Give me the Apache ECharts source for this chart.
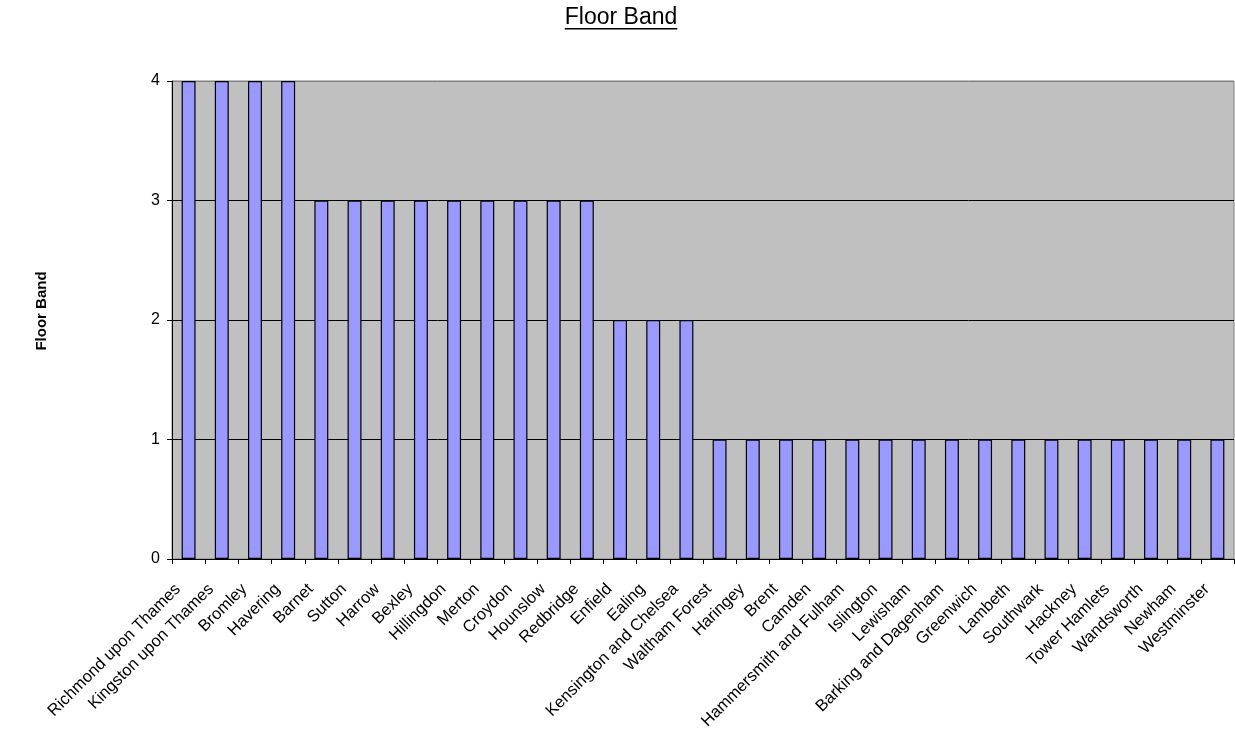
<!DOCTYPE html>
<html>
<head>
<meta charset="utf-8">
<script src="https://cdn.jsdelivr.net/npm/echarts@6/dist/echarts.min.js"></script>
<style>
  html, body { margin: 0; padding: 0; background: #fff; }
  #chart { width: 1235px; height: 733px; }
</style>
</head>
<body>
<div id="chart"></div>
<script>
// Borough names along the category axis
const boroughs = [
  'Richmond upon Thames', 'Kingston upon Thames', 'Bromley', 'Havering',
  'Barnet', 'Sutton', 'Harrow', 'Bexley', 'Hillingdon', 'Merton', 'Croydon',
  'Hounslow', 'Redbridge', 'Enfield', 'Ealing', 'Kensington and Chelsea',
  'Waltham Forest', 'Haringey', 'Brent', 'Camden', 'Hammersmith and Fulham',
  'Islington', 'Lewisham', 'Barking and Dagenham', 'Greenwich', 'Lambeth',
  'Southwark', 'Hackney', 'Tower Hamlets', 'Wandsworth', 'Newham', 'Westminster'
];

// Floor band of each borough
const floorBand = [
  4, 4, 4, 4,
  3, 3, 3, 3, 3, 3, 3, 3, 3,
  2, 2, 2,
  1, 1, 1, 1, 1, 1, 1, 1, 1, 1, 1, 1, 1, 1, 1, 1
];

const yTicks = [0, 1, 2, 3, 4];

const FONT = '"Liberation Sans", Arial, sans-serif';
const titleText = 'Floor Band';
const titleFont = '23px ' + FONT;

// width of the title so the underline spans it
const ctx = document.createElement('canvas').getContext('2d');
ctx.font = titleFont;
const titleWidth = ctx.measureText(titleText).width;
const titleCenter = 621;

const chart = echarts.init(document.getElementById('chart'), null, { renderer: 'canvas' });

chart.setOption({
  animation: false,
  backgroundColor: '#ffffff',
  textStyle: { fontFamily: FONT },
  graphic: [
    {
      type: 'text',
      left: titleCenter - titleWidth / 2,
      top: 6,
      style: {
        text: titleText,
        font: titleFont,
        fill: '#000'
      }
    },
    {
      type: 'rect',
      left: titleCenter - titleWidth / 2,
      top: 28,
      shape: { width: titleWidth, height: 1.6 },
      style: { fill: '#000' }
    }
  ],
  grid: {
    left: 172,
    top: 81,
    right: 1,
    bottom: 174,
    show: true,
    backgroundColor: '#C0C0C0',
    borderColor: '#808080',
    borderWidth: 1
  },
  xAxis: {
    type: 'category',
    data: boroughs,
    axisLine: { show: true, lineStyle: { color: '#000', width: 1 } },
    axisTick: { show: true, alignWithLabel: false, length: 5, lineStyle: { color: '#000' } },
    axisLabel: {
      interval: 0,
      rotate: 45,
      margin: 17,
      padding: [0, 15, 0, 0],
      color: '#000',
      fontSize: 16.5,
      fontFamily: FONT
    },
    splitLine: { show: false }
  },
  yAxis: {
    type: 'value',
    min: yTicks[0],
    max: yTicks[yTicks.length - 1],
    interval: 1,
    name: 'Floor Band',
    nameLocation: 'middle',
    nameGap: 123,
    nameRotate: 90,
    nameTextStyle: {
      color: '#000',
      fontSize: 15,
      fontWeight: 'bold',
      fontFamily: FONT,
      padding: [0, 0, 0, 18]
    },
    axisLine: { show: true, lineStyle: { color: '#000', width: 1 } },
    axisTick: { show: true, length: 5, lineStyle: { color: '#000' } },
    axisLabel: {
      margin: 12,
      color: '#000',
      fontSize: 16,
      fontFamily: FONT
    },
    splitLine: {
      show: true,
      lineStyle: { color: ['#000', '#000', '#000', '#000', '#808080'], width: 1 }
    }
  },
  series: [
    {
      type: 'bar',
      data: floorBand,
      barWidth: '42%',
      itemStyle: {
        color: '#9999FF',
        borderColor: '#000',
        borderWidth: 1.2
      }
    }
  ]
});
</script>
</body>
</html>
